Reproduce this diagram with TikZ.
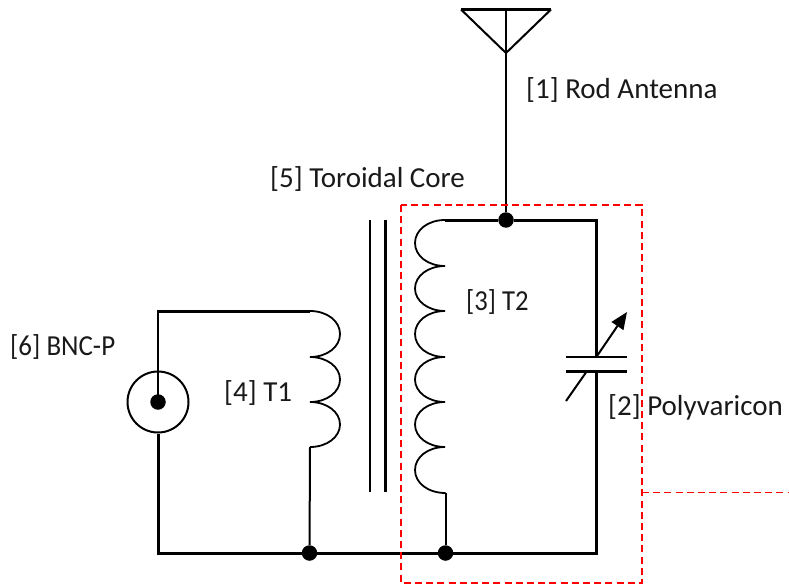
\documentclass[tikz,border=0pt]{standalone}
\usepackage{fontspec}
\setmainfont{Carlito}
\usetikzlibrary{arrows.meta}
\tikzset{
  wire/.style={draw=black,line width=3pt,line cap=rect},
  thinwire/.style={draw=black,line width=2pt},
  coilline/.style={draw=black,line width=1.8pt},
  junction/.style={circle,fill=black,inner sep=0pt,minimum size=15.5pt},
  lbl/.style={anchor=base west,inner sep=0pt,font=\fontsize{29}{32}\selectfont,text=black!90},
  redbox/.style={draw=red,line width=1.7pt,dash pattern=on 7pt off 4.2pt},
}
\begin{document}
\begin{tikzpicture}[x=1pt,y=-1pt]
\useasboundingbox (0,0) rectangle (789,588);
% named points
\coordinate (antL) at (461,9.5);
\coordinate (antR) at (551,9.5);
\coordinate (antM) at (506,9.5);
\coordinate (antA) at (506,53);
\node[junction] (jtop) at (506,220) {};
\coordinate (t2top) at (445,220);
\coordinate (t2bot) at (445.5,493);
\coordinate (capwireTop) at (596.5,220);
\coordinate (capP1) at (596.5,357);
\coordinate (capP2) at (596.5,371);
\coordinate (botR) at (596.5,553);
\coordinate (plate1L) at (566,357);
\coordinate (plate1R) at (627,357);
\coordinate (plate2L) at (566,371);
\coordinate (plate2R) at (627,371);
\node[junction] (jb2) at (445.5,553) {};
\node[junction] (jb1) at (309.5,553) {};
\coordinate (botL) at (158,553);
\coordinate (topL) at (158,311);
\coordinate (t1top) at (310,311);
\coordinate (t1bot) at (310,447);
\node[circle,draw=black,line width=2pt,minimum size=61pt,inner sep=0pt] (bnc) at (158,402) {};
\node[junction] (bncc) at (158,402) {};
% antenna
\draw[wire,line cap=butt] (antL) -- (antR);
\draw[thinwire,line join=miter] (antL) -- (antA) -- (antR);
\draw[thinwire] (antM) -- (antA) -- (jtop);
% tuned circuit
\draw[wire,line cap=butt] (t2top) -- (jtop) -- (capwireTop) -- (capP1);
\draw[wire,line cap=butt] (capP2) -- (botR) -- (jb2) -- (jb1) -- (botL) -- (bnc.south);
\draw[wire,line cap=butt] (plate2L) -- (plate2R);
\draw[thinwire] (plate1L) -- (plate1R);
% variable capacitor arrow
\coordinate (vs) at (566,401);
\coordinate (vg1) at (587,371);
\coordinate (vg2) at (597,356);
\coordinate (vt) at (627,312);
\draw[thinwire] (vs) -- (vg1);
\draw[thinwire,-{Triangle[length=17pt,width=14pt]}] (vg2) -- (vt);
% coil T2
\draw[coilline]
  (t2top) .. controls (428,220) and (415,230) .. (415,243)
  .. controls (415,256) and (428,266) .. (445,266)
  .. controls (428,266) and (415,276) .. (415,288.5)
  .. controls (415,301) and (428,311) .. (445,311)
  .. controls (428,311) and (415,321) .. (415,334)
  .. controls (415,347) and (428,357) .. (445,357)
  .. controls (428,357) and (415,367) .. (415,379.5)
  .. controls (415,392) and (428,402) .. (445,402)
  .. controls (428,402) and (415,412) .. (415,424.5)
  .. controls (415,437) and (428,447) .. (445,447)
  .. controls (428,447) and (415,457) .. (415,470)
  .. controls (415,483) and (428,493) .. (t2bot);
\draw[thinwire] (t2bot) -- (jb2);
% coil T1
\draw[coilline]
  (t1top) .. controls (327,311) and (340,321) .. (340,334)
  .. controls (340,347) and (327,357) .. (310,357)
  .. controls (327,357) and (340,367) .. (340,379.5)
  .. controls (340,392) and (327,402) .. (310,402)
  .. controls (327,402) and (340,412) .. (340,424.5)
  .. controls (340,437) and (327,447) .. (t1bot);
\draw[thinwire] (t1bot) -- (jb1);
\draw[wire,line cap=butt] (topL) -- (t1top);
\draw[thinwire,line cap=rect] (topL) -- (bncc);
% core
\coordinate (c1t) at (370,220);
\coordinate (c1b) at (370,492);
\coordinate (c2t) at (385.5,220);
\coordinate (c2b) at (385.5,492);
\draw[thinwire] (c1t) -- (c1b);
\draw[wire,line cap=butt] (c2t) -- (c2b);
% red box
\coordinate (r1) at (401,205);
\coordinate (r2) at (642,583);
\coordinate (r3) at (642,492.5);
\coordinate (r4) at (789,492.5);
\draw[redbox] (r1) rectangle (r2);
\draw[redbox] (r3) -- (r4);
% labels
\node[lbl] (l1) at (526,99) {[1] Rod Antenna};
\node[lbl] (l5) at (270,188) {[5] Toroidal Core};
\node[lbl] (l3) at (466,310) {\addfontfeature{FakeStretch=0.92}[3] T2};
\node[lbl] (l6) at (10,355) {\addfontfeature{FakeStretch=0.93}[6] BNC-P};
\node[lbl] (l4) at (224,401) {[4] T1};
\node[lbl] (l2) at (608,415) {[2] Polyvaricon};
\end{tikzpicture}
\end{document}
